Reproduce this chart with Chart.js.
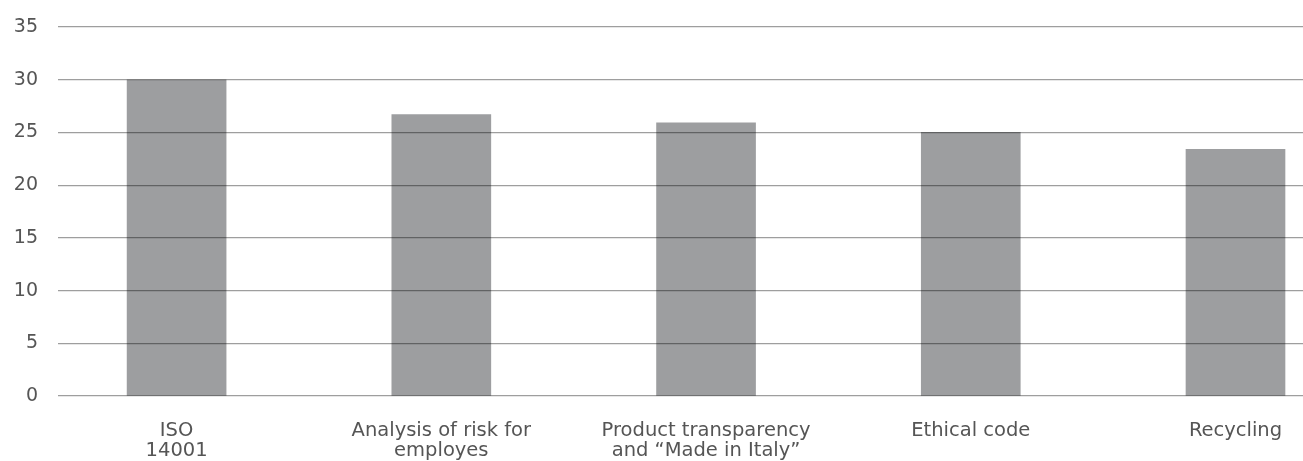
<!DOCTYPE html>
<html>
<head>
<meta charset="utf-8">
<script src="https://cdn.jsdelivr.net/npm/chart.js@4/dist/chart.umd.min.js"></script>
<style>
  html, body { margin: 0; padding: 0; background: #fff; overflow: hidden; }
  #wrap { width: 1303px; height: 461px; }
</style>
</head>
<body>
<div id="wrap"><canvas id="chart"></canvas></div>
<script>
// Declaring our data
var CATEGORIES = [
  ['ISO', '14001'],
  ['Analysis of risk for', 'employes'],
  ['Product transparency', 'and \u201cMade in Italy\u201d'],
  'Ethical code',
  'Recycling'
];
var VALUES = [30, 26.7, 25.9, 25, 23.4];
var Y_TICKS = { min: 0, max: 35, step: 5 };

var BAR_COLOR = '#9d9ea0';
var GRID_COLOR = 'rgba(0,0,0,0.38)';
var TEXT_COLOR = '#555555';

// the picture is cropped on the right, so the x range runs past the last bar
var X_MIN = -0.448;
var X_MAX = 4.255;

var points = VALUES.map(function (v, i) { return { x: i, y: v }; });

Chart.defaults.font.family = '"DejaVu Sans", sans-serif';

var chart = new Chart(document.getElementById('chart'), {
  type: 'bar',
  data: {
    datasets: [{
      data: points,
      backgroundColor: BAR_COLOR,
      borderWidth: 0,
      barThickness: 99
    }]
  },
  options: {
    responsive: true,
    maintainAspectRatio: false,
    animation: false,
    layout: { padding: 0 },
    plugins: { legend: { display: false }, tooltip: { enabled: false } },
    scales: {
      x: {
        type: 'linear',
        offset: false,
        min: X_MIN,
        max: X_MAX,
        grid: { display: false },
        border: { display: false },
        afterBuildTicks: function (scale) {
          scale.ticks = CATEGORIES.map(function (c, i) { return { value: i }; });
        },
        afterFit: function (scale) { scale.height = 65; },
        ticks: {
          autoSkip: false,
          maxRotation: 0,
          padding: 17,
          color: TEXT_COLOR,
          font: { size: 19.5, lineHeight: 1.02 },
          callback: function (value) { return CATEGORIES[value]; }
        }
      },
      y: {
        min: Y_TICKS.min,
        max: Y_TICKS.max,
        afterFit: function (scale) {
          scale.width = 58;
          scale.paddingTop = 27;
          scale.paddingBottom = 0;
        },
        // grid drawn on top of the bars, like the original
        grid: { color: GRID_COLOR, lineWidth: 1.2, drawTicks: false, z: 1 },
        border: { display: false },
        ticks: {
          stepSize: Y_TICKS.step,
          padding: 20,
          color: TEXT_COLOR,
          font: { size: 19 }
        }
      }
    }
  }
});
</script>
</body>
</html>
